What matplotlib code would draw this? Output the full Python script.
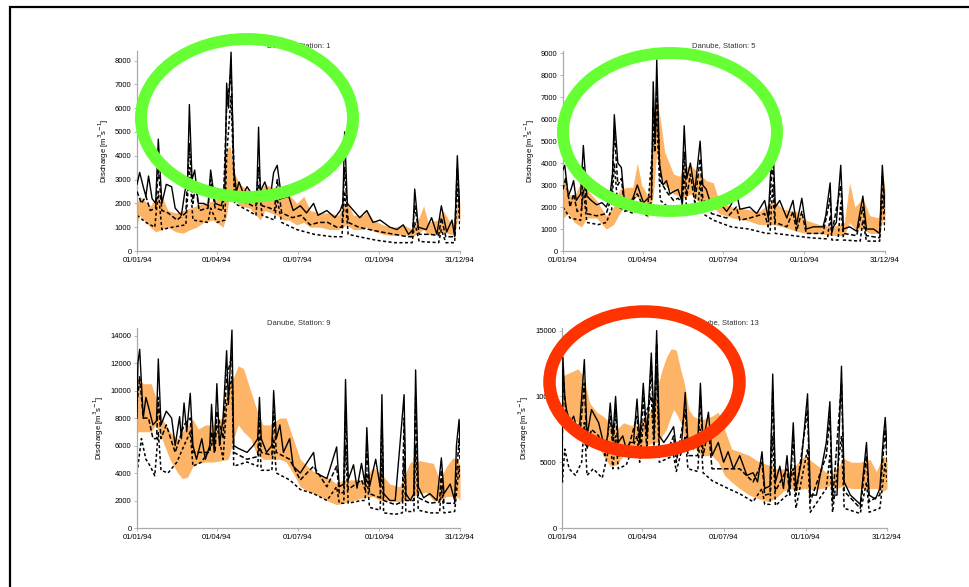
import matplotlib.pyplot as plt
from matplotlib.patches import Ellipse

plt.rcParams['font.family'] = ['Liberation Sans', 'DejaVu Sans']

# day-of-year tick positions for 1994
date_ticks = [0, 90, 181, 273, 364]
date_labels = ['01/01/94', '01/04/94', '01/07/94', '01/10/94', '31/12/94']

# ---- Station 1 ----
s1_obs_day = [0, 3, 7, 10, 13, 17, 21, 24, 28, 33, 39, 43, 50, 54, 57, 59, 62, 65, 69, 75,
              80, 83, 88, 95, 99, 101, 103, 106, 109, 112, 115, 120, 124, 131, 135, 137, 139, 144, 150, 154,
              158, 163, 171, 176, 184, 191, 199, 204, 214, 223, 229, 232, 234, 237, 244, 251, 259, 266, 274, 285,
              293, 300, 306, 311, 313, 317, 326, 332, 338, 343, 349, 355, 358, 361, 364]
s1_obs = [2800, 3300, 2700, 2300, 3150, 2200, 2000, 4700, 2000, 2800, 2700, 1800, 1500, 2500, 3000, 6150, 3000, 3400, 2000, 2000,
          1900, 3400, 2000, 1900, 2500, 7050, 6000, 8350, 3500, 2500, 2900, 2400, 2700, 2300, 2400, 5200, 2500, 2900, 2200, 3300,
          3600, 2200, 2300, 1700, 1900, 1600, 2000, 1500, 1700, 1400, 1700, 2000, 5000, 2000, 1700, 1400, 1700, 1200, 1300, 1000,
          900, 1100, 700, 900, 2600, 1000, 900, 1400, 700, 1900, 800, 1300, 600, 4000, 1500]
s1_sima_day = [0, 5, 10, 15, 21, 24, 28, 35, 45, 55, 59, 63, 66, 70, 80, 83, 88, 97, 101, 106,
               110, 120, 130, 134, 137, 141, 150, 155, 158, 163, 175, 185, 195, 205, 215, 225, 231, 234, 238, 250,
               262, 275, 290, 305, 310, 313, 318, 330, 340, 343, 348, 358, 361, 364]
s1_sima = [2500, 2000, 2300, 1700, 1800, 3500, 1700, 1600, 1300, 1600, 4500, 2000, 2800, 1700, 1800, 3000, 1800, 1700, 6000, 7500,
           2600, 2100, 1900, 1900, 3500, 1900, 1800, 1700, 3000, 1600, 1400, 1500, 1100, 1200, 1200, 1000, 1000, 3500, 1200, 1000,
           900, 800, 700, 600, 600, 1900, 700, 700, 650, 1400, 600, 600, 3500, 1400]
s1_simb_day = [0, 10, 20, 24, 28, 40, 55, 59, 63, 80, 83, 90, 99, 101, 106, 110, 125, 134, 137, 141,
               155, 158, 163, 180, 200, 220, 231, 234, 238, 250, 270, 290, 310, 313, 318, 340, 343, 348, 358, 361,
               364]
s1_simb = [1500, 1200, 1000, 2500, 900, 1000, 1100, 3500, 1300, 1200, 1800, 1200, 1300, 4000, 6500, 2000, 1700, 1500, 2800, 1500,
           1300, 2200, 1200, 900, 700, 600, 600, 2500, 700, 600, 450, 350, 350, 1200, 400, 350, 900, 350, 350, 2800,
           900]
s1_band_day = [0, 3, 15, 21, 28, 35, 44, 52, 60, 67, 75, 86, 97, 101, 105, 109, 116, 127, 139, 144,
               158, 165, 171, 180, 188, 195, 206, 217, 227, 236, 244, 255, 259, 266, 277, 289, 300, 311, 319, 323,
               328, 339, 345, 353, 358, 362, 364]
s1_band_lo = [1100, 1500, 1000, 800, 900, 1000, 800, 750, 900, 1000, 1200, 1300, 1000, 1500, 2600, 2200, 1900, 1800, 1300, 1700,
              1500, 1300, 1300, 1100, 1200, 1000, 1000, 900, 900, 1100, 900, 900, 1000, 850, 700, 650, 700, 600, 800, 900,
              700, 700, 800, 700, 700, 1500, 1200]
s1_band_hi = [2000, 2300, 1900, 2200, 2300, 1700, 1600, 1700, 1800, 1900, 2000, 2100, 2300, 4300, 4400, 3300, 2800, 2500, 2500, 2800,
              2600, 2200, 2400, 2000, 2300, 1700, 1600, 1600, 1500, 2100, 1500, 1500, 1700, 1300, 1100, 1000, 1100, 900, 1500, 1900,
              1200, 1300, 1700, 1200, 1200, 2300, 2000]

# ---- Station 5 ----
s5_obs_day = [0, 2, 6, 9, 12, 15, 20, 23, 27, 32, 38, 44, 49, 53, 56, 58, 62, 66, 70, 75,
              79, 84, 91, 96, 100, 102, 104, 106, 109, 113, 117, 121, 125, 130, 134, 137, 140, 144, 149, 155,
              158, 162, 168, 177, 185, 190, 196, 200, 211, 219, 228, 232, 237, 240, 245, 253, 260, 264, 270, 275,
              283, 294, 297, 302, 304, 309, 314, 317, 324, 332, 339, 343, 351, 358, 361, 364]
s5_obs = [3700, 3900, 2500, 2800, 3200, 2300, 2600, 4800, 2500, 2300, 2100, 2200, 2000, 2500, 3500, 6200, 4000, 3800, 2000, 2200,
          2400, 3000, 2200, 2400, 2500, 7700, 5000, 8700, 4000, 3000, 3200, 2600, 2700, 2800, 2300, 5700, 3300, 4000, 2700, 5000,
          3000, 2800, 2000, 2200, 1800, 2100, 2700, 1900, 2000, 1700, 2300, 1500, 5300, 2000, 2300, 1500, 2300, 1200, 2400, 1000,
          1100, 1100, 1600, 3100, 1000, 1300, 3900, 1000, 1100, 900, 2500, 1000, 1000, 800, 3900, 2000]
s5_sima_day = [0, 3, 8, 12, 16, 21, 23, 27, 38, 49, 55, 58, 62, 66, 70, 84, 91, 100, 102, 104,
               106, 110, 117, 125, 130, 135, 137, 140, 144, 149, 155, 158, 168, 185, 196, 200, 211, 228, 232, 237,
               240, 253, 260, 264, 270, 275, 294, 302, 304, 314, 317, 332, 339, 343, 358, 361, 364]
s5_sima = [2800, 3300, 2000, 2600, 1800, 1900, 3800, 1700, 1600, 1700, 2500, 5500, 3000, 3300, 1800, 2600, 2000, 2200, 6500, 4500,
           7500, 3200, 2700, 2300, 2400, 2200, 4500, 2500, 3500, 2200, 4200, 2400, 1700, 1500, 2000, 1400, 1500, 1700, 1100, 4200,
           1300, 1100, 1800, 900, 1800, 800, 800, 2400, 800, 3000, 800, 700, 2000, 700, 600, 3400, 1700]
s5_simb_day = [0, 8, 20, 23, 27, 40, 49, 55, 58, 62, 80, 84, 95, 102, 106, 110, 125, 134, 137, 140,
               152, 155, 158, 170, 190, 210, 230, 234, 237, 240, 260, 280, 299, 302, 304, 311, 314, 317, 336, 339,
               343, 358, 361, 364]
s5_simb = [2000, 1500, 1400, 2800, 1300, 1200, 1300, 1900, 4000, 2000, 1700, 2000, 1600, 5000, 6000, 2300, 1800, 1700, 3500, 1800,
           1700, 3200, 1700, 1400, 1100, 1000, 800, 800, 3000, 800, 700, 600, 550, 1600, 500, 500, 2200, 500, 450, 1400,
           450, 450, 2600, 900]
s5_band_day = [0, 6, 13, 21, 27, 38, 49, 57, 64, 72, 79, 84, 89, 96, 102, 106, 110, 115, 125, 132,
               137, 144, 155, 162, 170, 177, 192, 207, 222, 238, 249, 264, 275, 290, 305, 318, 324, 330, 339, 347,
               358, 362, 364]
s5_band_lo = [1500, 1700, 1300, 1100, 1500, 1500, 1000, 1200, 1700, 2200, 2300, 2500, 2000, 1500, 2500, 4500, 3500, 3000, 2600, 2500,
              2400, 2600, 2200, 2000, 2000, 1700, 1500, 1400, 1200, 1200, 1100, 900, 800, 800, 700, 700, 1300, 1000, 1000, 800,
              800, 1500, 1200]
s5_band_hi = [3400, 2600, 2500, 3200, 2800, 2300, 1600, 2000, 2800, 2900, 2900, 4000, 3000, 2500, 5000, 6900, 6000, 4500, 3500, 3400,
              3800, 3900, 3500, 3200, 3100, 2200, 2000, 1900, 1800, 2300, 1900, 1800, 1400, 1200, 1100, 1300, 3100, 2000, 2400, 1600,
              1500, 3400, 2800]

# ---- Station 9 ----
s9_obs_day = [0, 1, 3, 7, 10, 13, 18, 22, 24, 27, 33, 39, 43, 48, 50, 53, 56, 60, 63, 67,
              73, 77, 82, 84, 87, 90, 93, 97, 101, 103, 107, 109, 114, 124, 131, 136, 138, 140, 146, 152,
              154, 157, 161, 165, 172, 176, 184, 199, 202, 214, 225, 228, 233, 235, 238, 244, 248, 253, 257, 259,
              262, 269, 274, 276, 278, 285, 291, 296, 301, 303, 308, 312, 314, 317, 323, 330, 338, 343, 346, 353,
              358, 360, 363, 364]
s9_obs = [8000, 12000, 13000, 8000, 9500, 8800, 7500, 7800, 12300, 7500, 8500, 8000, 6000, 8100, 6500, 9100, 7000, 9800, 6000, 5000,
          6500, 5000, 6000, 9000, 5500, 10500, 6000, 8000, 12900, 9000, 14400, 6000, 5800, 5500, 6000, 6500, 9500, 6500, 5500, 6000,
          10000, 6500, 7500, 5500, 6500, 4500, 4000, 5500, 4000, 3600, 5900, 3000, 3200, 10800, 3500, 4600, 2900, 4700, 3200, 7300,
          3000, 5000, 3000, 9700, 2500, 2000, 2000, 5800, 9700, 2500, 2000, 2500, 11500, 3000, 2200, 2500, 2000, 5100, 2500, 3200,
          2000, 6000, 7900, 6000]
s9_sima_day = [0, 3, 7, 13, 18, 22, 24, 27, 33, 43, 53, 60, 63, 73, 82, 84, 88, 90, 97, 101,
               107, 109, 124, 136, 138, 140, 152, 154, 157, 172, 184, 199, 214, 225, 228, 233, 235, 238, 253, 257,
               259, 262, 274, 276, 278, 291, 299, 301, 303, 312, 314, 317, 330, 341, 343, 346, 358, 363, 364]
s9_sima = [9000, 11000, 8000, 8000, 6500, 6500, 9500, 6500, 7500, 5500, 7500, 8000, 5500, 5500, 5500, 7000, 5500, 8500, 6500, 11000,
           12500, 5500, 5000, 5200, 8000, 5500, 5300, 8500, 5500, 5000, 3500, 4500, 3000, 4500, 2500, 2600, 8500, 2800, 3500, 2800,
           6000, 2500, 2200, 8000, 2000, 1700, 1900, 8000, 2000, 2000, 9500, 2200, 1800, 1900, 4200, 1800, 1800, 6500, 5000]
s9_simb_day = [0, 5, 10, 15, 20, 24, 27, 35, 45, 53, 60, 63, 73, 84, 90, 97, 101, 107, 109, 124,
               136, 138, 140, 152, 154, 157, 172, 184, 199, 214, 225, 228, 233, 235, 238, 253, 257, 259, 262, 274,
               276, 278, 291, 299, 301, 303, 312, 314, 317, 330, 341, 343, 346, 358, 363, 364]
s9_simb = [4000, 6500, 5000, 4500, 3800, 7000, 4200, 4000, 4800, 6000, 7000, 4500, 4800, 6000, 7500, 5000, 9000, 11000, 4500, 4800,
           4500, 6500, 4200, 4200, 6500, 4000, 3500, 2800, 2500, 2000, 3000, 1800, 1800, 6000, 1800, 2000, 2000, 4000, 1500, 1300,
           5000, 1100, 1000, 1100, 5000, 1200, 1200, 6000, 1300, 1100, 1100, 3000, 1100, 1200, 4500, 3500]
s9_band_day = [0, 7, 16, 21, 28, 37, 46, 51, 57, 63, 69, 77, 86, 95, 103, 109, 114, 120, 128, 134,
               142, 149, 161, 168, 176, 184, 195, 206, 217, 225, 232, 244, 255, 266, 274, 285, 296, 308, 319, 326,
               334, 341, 349, 356, 362, 364]
s9_band_lo = [7000, 7000, 7000, 7500, 6500, 5000, 4000, 3600, 3700, 4500, 4700, 4800, 4800, 4900, 5000, 6500, 7500, 7000, 6500, 5500,
              5000, 5000, 5000, 4800, 4000, 3000, 2600, 2300, 1900, 1700, 1800, 2000, 2200, 2300, 2000, 2000, 1900, 2200, 2500, 2600,
              2000, 2000, 2300, 2300, 2200, 2000]
s9_band_hi = [11000, 10500, 10500, 9500, 8000, 7000, 6500, 7000, 7500, 7900, 7200, 7500, 7500, 8000, 10500, 11000, 11800, 11600, 10000, 8800,
              7500, 7500, 8000, 8000, 6500, 5000, 4300, 3800, 3600, 3200, 3500, 3500, 3500, 4400, 4000, 3200, 3000, 4800, 4900, 4800,
              4700, 3500, 4500, 5100, 5000, 4500]

# ---- Station 13 ----
s13_obs_day = [0, 1, 3, 5, 9, 13, 17, 20, 25, 28, 33, 41, 48, 51, 54, 57, 60, 63, 68, 72,
               76, 80, 84, 87, 91, 95, 100, 103, 106, 109, 114, 119, 125, 128, 134, 138, 141, 147, 152, 155,
               158, 164, 168, 175, 181, 186, 192, 199, 207, 214, 219, 224, 227, 233, 236, 239, 244, 248, 252, 255,
               259, 262, 268, 275, 278, 285, 296, 300, 303, 308, 313, 316, 323, 334, 341, 344, 351, 356, 360, 362,
               364]
s13_obs = [3500, 13000, 10000, 9000, 8000, 8500, 7500, 8000, 12800, 7000, 9000, 8000, 6000, 7000, 9500, 7000, 10000, 6500, 7000, 6000,
           6500, 6500, 9800, 6500, 11000, 7000, 13300, 8000, 15000, 7000, 6500, 7000, 7700, 6000, 6500, 10300, 6500, 6000, 6500, 11000,
           6500, 8800, 5500, 6500, 5000, 5800, 4500, 5500, 4000, 4200, 3500, 5800, 3000, 3200, 11700, 3500, 4700, 3000, 5500, 3000,
           8000, 3000, 5000, 10200, 2500, 2500, 6500, 9600, 2500, 2500, 12300, 3500, 2500, 1800, 6500, 2500, 2200, 3000, 7000, 8400,
           6000]
s13_sima_day = [0, 1, 5, 13, 20, 25, 28, 33, 41, 48, 54, 57, 60, 63, 72, 84, 87, 91, 95, 100,
                103, 106, 109, 119, 125, 128, 138, 141, 152, 155, 158, 164, 168, 186, 199, 214, 224, 227, 233, 236,
                239, 252, 255, 259, 262, 275, 278, 296, 300, 303, 313, 316, 334, 341, 344, 356, 362, 364]
s13_sima = [3500, 12000, 8000, 7500, 7000, 11000, 6000, 7500, 7000, 5500, 8500, 6000, 9000, 5500, 5500, 8500, 5500, 10000, 6000, 12500,
            7000, 14000, 6000, 6000, 7000, 5000, 9000, 5500, 5500, 10000, 5500, 7500, 4500, 4500, 4500, 3500, 5000, 2500, 2600, 10500,
            2800, 4500, 2500, 7000, 2500, 9000, 2000, 5500, 8500, 2000, 11000, 2800, 1500, 5500, 2000, 2500, 7500, 5000]
s13_simb_day = [0, 3, 8, 15, 22, 25, 28, 35, 45, 54, 57, 60, 63, 72, 84, 87, 91, 100, 103, 106,
                109, 125, 128, 138, 141, 152, 155, 158, 168, 186, 199, 214, 224, 227, 233, 236, 239, 252, 259, 262,
                275, 278, 296, 300, 303, 313, 316, 334, 341, 344, 356, 362, 364]
s13_simb = [3000, 6000, 4500, 4000, 5000, 8000, 4000, 4500, 3800, 6500, 4500, 7000, 4500, 4800, 7000, 5000, 8000, 10000, 6000, 12000,
            5000, 5500, 4300, 7000, 4500, 4300, 7500, 4200, 3600, 3000, 2600, 2000, 3000, 1800, 1800, 7000, 1700, 2500, 4500, 1500,
            6000, 1200, 3000, 5500, 1200, 7000, 1500, 1100, 3500, 1200, 1500, 5000, 3500]
s13_band_day = [0, 5, 18, 24, 31, 39, 46, 54, 61, 69, 77, 84, 95, 104, 108, 112, 117, 122, 125, 128,
                133, 137, 142, 147, 156, 168, 175, 182, 190, 199, 210, 221, 231, 240, 248, 255, 262, 272, 281, 291,
                300, 308, 315, 324, 334, 345, 352, 360, 364]
s13_band_lo = [9000, 8500, 8000, 7500, 7000, 6500, 5500, 4700, 4800, 5500, 6000, 6200, 6300, 6500, 6500, 7000, 7500, 8500, 9000, 8700,
               8000, 6500, 6200, 6200, 5500, 5500, 5000, 4000, 3500, 3000, 2500, 2200, 2000, 2300, 2800, 3000, 2900, 3000, 2900, 3000,
               3200, 3000, 3200, 3000, 3000, 3000, 3000, 2800, 3000]
s13_band_hi = [11500, 11700, 12100, 11500, 9500, 8800, 8500, 8000, 7500, 8000, 7800, 7800, 8500, 9500, 11000, 12000, 13000, 13600, 13600, 13500,
               12000, 11000, 9000, 8500, 8200, 8500, 8800, 7500, 6000, 5800, 5500, 5000, 4800, 4500, 4500, 4200, 4800, 5500, 5000, 4500,
               4000, 4500, 5300, 5000, 5000, 5200, 4300, 5500, 5200]


def plot_station(ax, title, obs_day, obs, sima_day, sima, simb_day, simb,
                 band_day, band_lo, band_hi, ymax, yticks):
    ax.fill_between(band_day, band_lo, band_hi, color='#fdb466', lw=0, zorder=1)
    ax.plot(simb_day, simb, color='black', lw=1.1, ls=(0, (2, 1.6)), zorder=2)
    ax.plot(sima_day, sima, color='black', lw=1.1, ls=(0, (3, 1.5)), zorder=3)
    ax.plot(obs_day, obs, color='black', lw=1.0, zorder=4)
    ax.set_xlim(0, 364)
    ax.set_ylim(0, ymax)
    ax.set_xticks(date_ticks)
    ax.set_xticklabels(date_labels)
    ax.set_yticks(yticks)
    ax.tick_params(labelsize=5.5, length=2, width=0.5, color='#999999', pad=2)
    ax.spines['top'].set_visible(False)
    ax.spines['right'].set_visible(False)
    for side in ['left', 'bottom']:
        ax.spines[side].set_color('#aaaaaa')
        ax.spines[side].set_linewidth(0.9)
    ax.set_title(title, fontsize=5.5, pad=3, color='#333333')
    ax.set_ylabel(r'Discharge [m$^3$s$^{-1}$]', fontsize=5.5, labelpad=3)


fig = plt.figure(figsize=(9.69, 5.87), dpi=100)

ax1 = fig.add_axes([0.1414, 0.5724, 0.3333, 0.3407])
plot_station(ax1, 'Danube, Station: 1', s1_obs_day, s1_obs, s1_sima_day, s1_sima,
             s1_simb_day, s1_simb, s1_band_day, s1_band_lo, s1_band_hi,
             8400, range(0, 8001, 1000))

ax2 = fig.add_axes([0.5810, 0.5724, 0.3323, 0.3407])
plot_station(ax2, 'Danube, Station: 5', s5_obs_day, s5_obs, s5_sima_day, s5_sima,
             s5_simb_day, s5_simb, s5_band_day, s5_band_lo, s5_band_hi,
             9100, range(0, 9001, 1000))

ax3 = fig.add_axes([0.1414, 0.1005, 0.3333, 0.3407])
plot_station(ax3, 'Danube, Station: 9', s9_obs_day, s9_obs, s9_sima_day, s9_sima,
             s9_simb_day, s9_simb, s9_band_day, s9_band_lo, s9_band_hi,
             14550, range(0, 14001, 2000))

ax4 = fig.add_axes([0.5800, 0.1005, 0.3354, 0.3407])
plot_station(ax4, 'Danube, Station: 13', s13_obs_day, s13_obs, s13_sima_day, s13_sima,
             s13_simb_day, s13_simb, s13_band_day, s13_band_lo, s13_band_hi,
             15200, range(0, 15001, 5000))

# overlay in pixel units: slide frame and highlight rings
over = fig.add_axes([0, 0, 1, 1], zorder=10)
over.set_xlim(0, 969)
over.set_ylim(587, 0)
over.axis('off')
over.plot([10, 10, 969], [587, 7, 7], color='black', lw=1.6, solid_joinstyle='miter')
over.add_patch(Ellipse((247, 118), 212, 158, fill=False, ec='#66ff33', lw=8.6))
over.add_patch(Ellipse((670, 132), 214, 158, fill=False, ec='#66ff33', lw=8.6))
over.add_patch(Ellipse((644.5, 382), 190, 141, fill=False, ec='#ff3300', lw=9.0))

fig.savefig('out.png', dpi=100)
